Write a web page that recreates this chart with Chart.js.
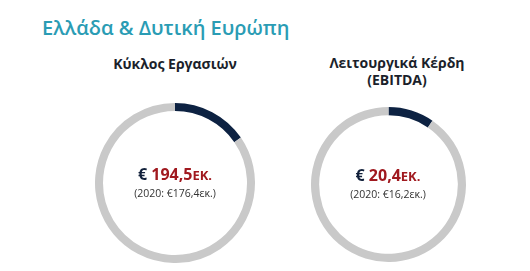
<!DOCTYPE html>
<html>
<head>
<meta charset="utf-8">
<script src="https://cdn.jsdelivr.net/npm/chart.js@4"></script>
<style>
  html, body { margin:0; padding:0; background:#fff; }
  body { width:530px; height:271px; position:relative; overflow:hidden; font-family:"Open Sans", sans-serif; }
  .title { position:absolute; left:42px; top:14px; font-size:20px; font-weight:600; color:#2a9cb4; white-space:nowrap; letter-spacing:0px; }
  .sub { position:absolute; font-size:14px; font-weight:700; color:#1b1f2b; text-align:center; line-height:17px; white-space:nowrap; }
  .box { position:absolute; }
  .center { position:absolute; text-align:center; white-space:nowrap; }
  .big { font-size:16px; font-weight:700; line-height:20px; }
  .eur { color:#12213b; }
  .val { color:#a0191f; }
  .unit { font-size:13px; }
  .prev { font-size:10.5px; color:#333; line-height:16px; }
</style>
</head>
<body>
<div class="title">Ελλάδα &amp; Δυτική Ευρώπη</div>

<div class="sub" id="sub0" style="left:75px; top:55px; width:200px;"></div>
<div class="sub" id="sub1" style="left:297px; top:54px; width:200px;"></div>

<div class="box" style="left:95px; top:103px; width:160px; height:160px;"><canvas id="c0"></canvas></div>
<div class="box" style="left:311px; top:107px; width:155px; height:155px;"><canvas id="c1"></canvas></div>

<div class="center" id="ctr0" style="left:75px; top:164px; width:200px;"></div>
<div class="center" id="ctr1" style="left:288px; top:165px; width:200px;"></div>

<script>
// ---- data ----
const categories = ['Κύκλος Εργασιών', 'Λειτουργικά Κέρδη<br>(EBITDA)'];
const values2021 = ['194,5', '20,4'];        // εκ. €
const values2020 = ['176,4', '16,2'];        // εκ. €
const highlightShare = [15.4, 9.6];          // dark arc (% of ring)
const remainderShare = [84.6, 90.4];         // grey arc (% of ring)
const cutouts = ['90%', '89.5%'];

const dark = '#0d2242';
const grey = '#c9c9c9';

categories.forEach((cat, i) => {
  document.getElementById('sub' + i).innerHTML = cat;
  document.getElementById('ctr' + i).innerHTML =
    '<div class="big"><span class="eur">€ </span><span class="val">' + values2021[i] +
    '<span class="unit">ΕΚ.</span></span></div>' +
    '<div class="prev">(2020: €' + values2020[i] + 'εκ.)</div>';

  new Chart(document.getElementById('c' + i), {
    type: 'doughnut',
    data: {
      labels: ['2021', 'rest'],
      datasets: [{
        data: [highlightShare[i], remainderShare[i]],
        backgroundColor: [dark, grey],
        borderWidth: 0
      }]
    },
    options: {
      responsive: true,
      maintainAspectRatio: false,
      animation: false,
      cutout: cutouts[i],
      layout: { padding: 0 },
      plugins: { legend: { display: false }, tooltip: { enabled: false } }
    }
  });
});
</script>
</body>
</html>
